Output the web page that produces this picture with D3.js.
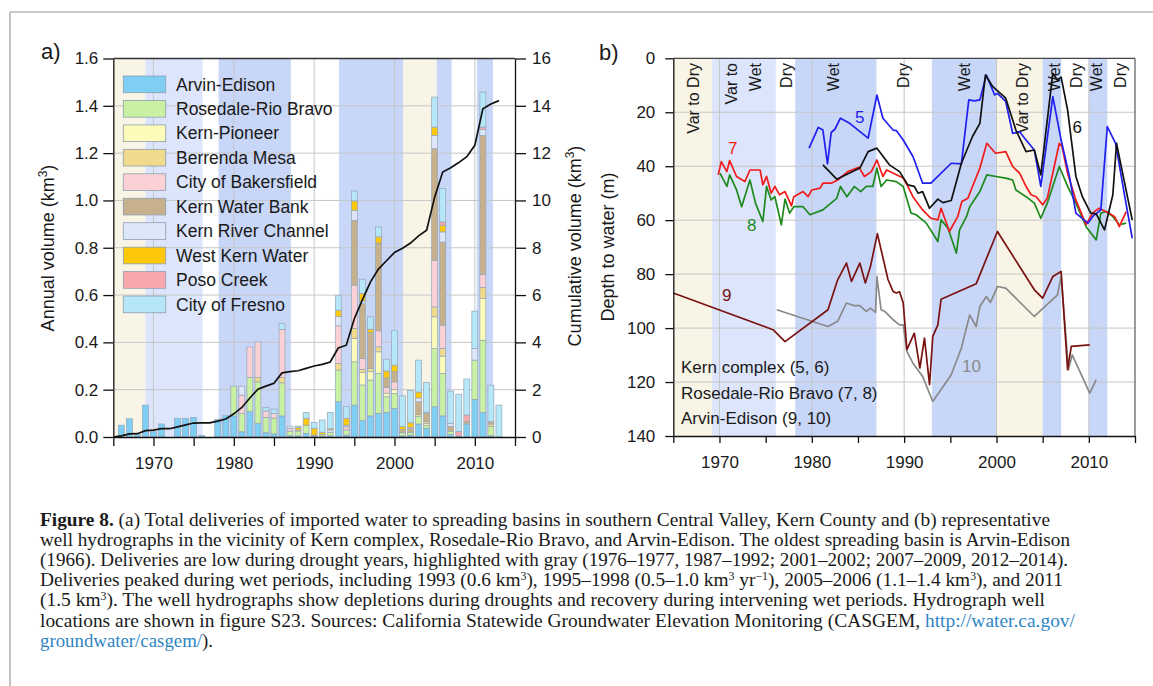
<!DOCTYPE html>
<html><head><meta charset="utf-8">
<script src="https://cdn.jsdelivr.net/npm/d3@7"></script>
<style>
body{margin:0;background:#fff}
svg{display:block}
text{font-family:"Liberation Sans",Arial,sans-serif;fill:#1a1a1a}
</style>
</head><body>
<svg id="c" width="1153" height="686"></svg>
<script>
// ---------- DATA: panel a ----------
const years = [1966,1967,1968,1969,1970,1971,1972,1973,1974,1975,1976,1977,1978,1979,1980,1981,1982,1983,1984,1985,1986,1987,1988,1989,1990,1991,1992,1993,1994,1995,1996,1997,1998,1999,2000,2001,2002,2003,2004,2005,2006,2007,2008,2009,2010,2011,2012,2013];
const seriesNames = ["Arvin-Edison","Rosedale-Rio Bravo","Kern-Pioneer","Berrenda Mesa","City of Bakersfield","Kern Water Bank","Kern River Channel","West Kern Water","Poso Creek","City of Fresno"];
const seriesColors = ["#7ecff3","#c9f0a3","#fdfbb9","#f2da8c","#fcd1d5","#c7b18d","#dee6fa","#fdc70a","#f8a8ac","#b6e7f8"];
const arvinEdison = [.05,.077,.01,.135,.022,.055,0,.079,.079,.083, .006,0,.075,.09,.089,.022,.107,.058,.018,.013, .089,.005,.005,.015,.004,.004,.005,.149,.008,.135, .069,.089,.1,.104,.121,.005,.008,.055,.037,.128, .089,.01,.004,.055,.159,.104,.005,0];
const rosedale = [0,0,0,0,0,0,0,0,0,0, 0,0,0,0,.126,.078,.145,.175,.065,.067, .14,.02,.02,.035,.004,.006,.015,.134,.022,.183, .151,.152,.169,.066,.063,.013,.012,.031,.013,.246, .18,.015,0,0,.166,.305,.04,0];
const kernPioneer = [0,0,0,0,0,0,0,0,0,0, 0,0,0,0,0,0,0,0,0,0, 0,0,0,0,0,0,0,0,0,.099, .052,.035,.091,.015,.016,0,0,0,.008,.134, .073,0,0,0,0,.176,0,0];
const berrenda = [0,0,0,0,0,0,0,0,0,0, 0,0,0,0,0,0,0,.019,0,0, .023,0,.005,0,0,0,0,.028,0,.042, .014,.014,.021,0,0,0,0,.009,.007,.042, .032,0,0,0,0,.047,.01,0];
const bakersfield = [0,0,0,0,0,0,0,0,0,0, 0,0,0,0,0,.077,.129,.15,.027,.02, .203,.011,0,0,0,0,0,.159,.013,.183, .046,0,.068,.025,.033,0,0,0,0,.197, .099,0,0,0,0,.056,0,0];
const waterBank = [0,0,0,0,0,0,0,0,0,0, 0,0,0,0,0,0,0,0,0,0, 0,0,0,0,0,0,0,0,0,.274, .232,.152,.371,.04,.043,.014,.015,.054,.035,.472, .351,.02,0,.01,0,.587,.01,0];
const riverChannel = [0,0,0,0,0,0,0,0,0,0, 0,0,0,0,0,.038,0,0,0,0, 0,.01,0,0,0,0,.01,.039,.007,.042, .011,0,0,0,0,0,.006,.016,.005,.056, .043,.013,0,0,.049,.025,0,0];
const westKern = [0,0,0,0,0,0,0,0,0,0, 0,0,0,0,0,0,0,0,0,0, 0,0,.01,.029,.029,.01,.005,.027,.029,.04, .032,.014,.026,.029,.028,.012,.019,.025,0,.035, .028,0,0,0,0,0,0,0];
const posoCreek = [0,0,0,0,0,0,0,0,0,0, 0,0,0,0,0,0,0,0,0,0, 0,0,0,0,0,0,0,0,0,0, 0,0,0,0,0,0,0,0,0,0, .014,0,.019,.028,0,.01,0,0];
const fresno = [0,0,0,0,0,0,0,0,0,0, 0,0,0,0,0,0,0,0,.015,.018, .025,0,.006,.025,.025,.052,.069,.061,.049,.042, .06,.052,.042,.05,.145,.13,.136,.135,.126,.127, .141,.136,.158,.152,.158,.148,.154,.135];
const cumYears = [1965,1966,1967,1968,1969,1970,1971,1972,1973,1974,1975,1976,1977,1978,1979,1980,1981,1982,1983,1984,1985,1986,1987,1988,1989,1990,1991,1992,1993,1994,1995,1996,1997,1998,1999,2000,2001,2002,2003,2004,2005,2006,2007,2008,2009,2010,2011,2012,2013];
const cumVolume = [0,.05,.13,.14,.27,.29,.35,.35,.43,.51,.59,.6,.6,.67,.76,.98,1.25,1.65,2.02,2.15,2.27,2.71,2.76,2.8,2.9,3.0,3.07,3.17,3.76,3.88,5.0,5.8,6.55,7.1,7.45,7.8,7.98,8.2,8.5,8.74,10.14,11.2,11.38,11.6,11.85,12.33,13.87,14.08,14.22];
const annualTicks = [0,0.2,0.4,0.6,0.8,1.0,1.2,1.4,1.6];
const cumTicks = [0,2,4,6,8,10,12,14,16];
const yearTicks = [1965,1970,1975,1980,1985,1990,1995,2000,2005,2010,2015];
const yearLabels = [1970,1980,1990,2000,2010];
const bandsA = [[1965,1969,"varDry"],[1969,1976.1,"varWet"],[1978.1,1987.1,"wet"],[1993.1,2001.1,"wet"],[2001.1,2005.25,"varDry"],[2005.25,2007.1,"wet"],[2010.25,2012.25,"wet"]];

// ---------- DATA: panel b ----------
const bandsB = [[1965,1969.2,"varDry"],[1969.2,1976.1,"varWet"],[1978.2,1987,"wet"],[1993,2000,"wet"],[2000,2005,"varDry"],[2005,2007,"wet"],[2010,2012,"wet"]];
const periodLabels = [["Var to Dry",1967.16],["Var to",1971.3],["Wet",1973.83],["Dry",1977.26],["Wet",1982.3],["Dry",1989.86],["Wet",1996.5],["Var to Dry",2002.8],["Wet",2006.26],["Dry",2008.6],["Wet",2010.77],["Dry",2013.4]];
const depthTicks = [0,20,40,60,80,100,120,140];
const well5 = [[1979.7,33.3],[1980.7,25.6],[1981.2,26.6],[1981.7,39.1],[1982.1,27.5],[1982.5,26.3],[1983.1,22.2],[1984.1,24.1],[1986.1,29.6],[1987.05,13.6],[1987.7,22.2],[1988.8,26.6],[1989.15,26.8],[1989.9,30.3],[1990.95,36.4],[1991.1,37.7],[1992.0,46.3],[1992.9,46.3],[1995.1,38.9],[1996.2,39.1],[1997.0,15.4],[1997.6,15.8],[1998.2,15.4],[1998.9,6.2],[1999.8,13.6],[2000.1,13],[2001.0,16],[2001.75,27.8],[2002.5,27.2],[2003.2,30.3],[2004.1,34],[2004.8,47.5],[2006.1,14.2],[2007.0,30.3],[2007.9,43.8],[2008.6,57.4],[2009.9,61.1],[2010.4,58.7],[2011.3,56.2],[2012.0,25.3],[2012.9,31.5],[2013.8,49.4],[2014.7,66.7]];
const well6 = [[1981.2,39.5],[1982.7,44.8],[1985.2,40.7],[1986.1,34.6],[1987.05,33.3],[1988.4,39.5],[1989.5,42],[1990.4,46.9],[1991.1,47.5],[1991.5,50],[1992.0,49.4],[1992.75,55.6],[1993.65,52.2],[1994.2,53.5],[1995.1,52.7],[1996.2,38.9],[1997.4,29],[1998.2,24.1],[1998.8,6.2],[1999.6,10.5],[2000.0,11.7],[2001.0,14.8],[2002.1,26.6],[2003.2,34.6],[2004.1,34],[2004.8,43.2],[2006.1,5.6],[2006.6,8],[2007.0,7],[2007.7,19.1],[2008.6,43.8],[2009.3,51.3],[2010.2,57.4],[2010.8,57.7],[2011.7,63.6],[2012.6,50.6],[2013.0,31.5],[2013.8,45],[2014.7,59.9]];
const well7 = [[1969.86,43.2],[1970.2,38.3],[1970.8,42],[1971.1,37.9],[1971.85,43.8],[1972.75,45.7],[1973.3,41.4],[1974.4,41.4],[1974.7,46.9],[1975.1,43.8],[1975.6,50],[1976.0,47.5],[1976.5,50.6],[1977.1,49.4],[1977.8,54.7],[1978.05,51.3],[1979.05,49.4],[1979.6,51.3],[1980.0,48.8],[1980.9,48.1],[1981.2,46.3],[1982.1,46.3],[1982.8,45.1],[1983.9,42],[1985.1,40.4],[1985.7,43.8],[1986.45,42],[1987.05,37.7],[1987.7,43.8],[1988.1,41.4],[1989.9,44.4],[1990.4,47.5],[1990.95,51.3],[1992.0,56.2],[1992.9,59.3],[1993.65,59.9],[1994.0,55.6],[1994.9,64.2],[1995.8,58.7],[1996.25,53.1],[1996.9,51.9],[1997.4,47.5],[1998.2,40.7],[1998.95,31.5],[1999.9,35.2],[2001.0,34.6],[2001.75,40.1],[2002.5,42.6],[2003.2,47.5],[2003.75,50.6],[2004.3,51.3],[2005.0,54.3],[2005.5,51.9],[2006.8,31.5],[2007.1,32.7],[2007.7,42.6],[2008.6,52.5],[2009.7,61.7],[2010.4,57.4],[2011.1,55.6],[2012.2,57.4],[2012.8,58.7],[2013.3,62.4],[2014.05,56.8]];
const well8 = [[1970.05,42.6],[1970.8,47.5],[1971.1,43.2],[1971.85,48.8],[1972.4,55],[1973.3,45.1],[1973.9,53.7],[1974.7,60.5],[1975.1,47.5],[1975.6,52.5],[1976.0,51.3],[1976.7,61.7],[1977.1,52.2],[1977.6,57.4],[1978.05,55],[1979.05,55],[1979.8,58],[1981.2,56.2],[1982.7,51.9],[1983.1,47.5],[1983.8,51.3],[1984.6,47.5],[1985.3,49.4],[1985.9,47.5],[1986.6,47.5],[1987.05,40.7],[1987.5,47.5],[1988.1,45.1],[1989.15,45.7],[1989.9,47.5],[1990.75,57.4],[1991.3,58],[1992.4,61.1],[1993.65,67.9],[1994.0,59.9],[1994.75,63],[1995.65,72.2],[1996.0,63.6],[1996.75,58.7],[1997.1,55],[1998.2,49.4],[1998.95,43.2],[1999.96,43.8],[2001.0,44.4],[2001.75,45.1],[2002.1,48.8],[2003.2,51.3],[2004.1,53.7],[2004.8,59.3],[2005.5,53.7],[2006.8,40.1],[2007.7,47.5],[2008.6,53.7],[2009.7,62.4],[2010.8,67.3],[2011.3,57.4],[2011.9,56.8],[2012.6,58.7],[2013.3,61.7],[2014.05,61.1]];
const well9 = [[1965,87],[1975.8,100.6],[1977.1,105],[1981.75,93.2],[1982.8,82.1],[1983.75,75.9],[1984.3,82.7],[1985.2,75.9],[1985.8,83.3],[1986.35,77.2],[1987.1,65],[1988.25,82],[1988.8,86.4],[1989.15,87],[1989.5,86.5],[1989.9,90.7],[1990.3,108],[1991.1,101.9],[1991.7,114.8],[1992.2,103.7],[1992.75,121],[1993.1,103.1],[1993.65,98.8],[1994.0,89.3],[1997.8,83.6],[2000.1,64.2],[2004.1,85.8],[2005.0,88.9],[2006.1,80.9],[2007.0,79],[2007.7,115.4],[2008.1,106.8],[2010.1,106.2]];
const well10 = [[1976.2,93.2],[1981.75,99.4],[1982.8,97.5],[1983.75,90.7],[1984.6,91.7],[1985.2,91.7],[1985.9,93.8],[1986.35,92.6],[1986.9,94.2],[1987.05,80.9],[1987.5,93.2],[1987.9,93.8],[1988.8,96.9],[1989.5,98.8],[1989.9,98.8],[1990.3,108.7],[1990.95,113],[1992.0,117.9],[1993.1,127.2],[1995.1,117.3],[1996.2,107.4],[1997.1,95.1],[1997.8,99.4],[1998.2,92],[1998.9,88.3],[1999.35,90.5],[2000.1,84.6],[2001.0,85.2],[2004.1,95.7],[2006.6,87.7],[2007.0,80.9],[2007.8,115.4],[2008.2,109.9],[2010.1,124.1],[2010.8,119.1]];
const wellNames = ["10","9","8","7","5","6"];
const wellColors = ["#8a8a8a","#7a1212","#1e8a1e","#f21b1b","#1f1ff0","#111111"];
const wellLabelPos = [["5",1985.2,21.8],["6",2008.75,25.4],["7",1971.45,33.2],["8",1973.5,61.7],["9",1970.8,87.7],["10",1997.3,114]];
const siteLegend = ["Kern complex (5, 6)","Rosedale-Rio Bravo (7, 8)","Arvin-Edison (9, 10)"];

// ---------- DRAW ----------
const svg = d3.select("#c");
svg.append("rect").attr("width",1153).attr("height",686).attr("fill","#fff");
const bandColor = {varDry:"#f8f4e6", varWet:"#dce5fb", wet:"#c8d6f8"};
const gridColor = "#c6c6c6";

// frame of page
svg.append("line").attr("x1",10).attr("x2",1153).attr("y1",12).attr("y2",12).attr("stroke","#9a9a9a").attr("stroke-width",1.2);
svg.append("line").attr("x1",10).attr("x2",10).attr("y1",12).attr("y2",686).attr("stroke","#9a9a9a").attr("stroke-width",1.2);

// ===== Panel a =====
const xa = d3.scaleLinear().domain([1965,2015]).range([113.3,515]);
const ya = d3.scaleLinear().domain([0,1.6]).range([437,58.5]);
const ya2 = d3.scaleLinear().domain([0,16]).range([437,58.5]);
const ga = svg.append("g");

ga.selectAll("rect.band").data(bandsA).join("rect")
  .attr("x",d=>xa(d[0])).attr("width",d=>xa(d[1])-xa(d[0]))
  .attr("y",ya(1.6)).attr("height",ya(0)-ya(1.6)).attr("fill",d=>bandColor[d[2]]);
ga.selectAll("line.hg").data(annualTicks.slice(1,-1)).join("line")
  .attr("x1",xa(1965)).attr("x2",xa(2015)).attr("y1",d=>ya(d)).attr("y2",d=>ya(d))
  .attr("stroke",gridColor).attr("stroke-width",1);
ga.selectAll("line.vg").data(yearLabels).join("line")
  .attr("x1",d=>xa(d)).attr("x2",d=>xa(d)).attr("y1",ya(0)).attr("y2",ya(1.6))
  .attr("stroke",gridColor).attr("stroke-width",1);

const table = years.map((y,i)=>{
  const o={year:y};
  const vals=[arvinEdison,rosedale,kernPioneer,berrenda,bakersfield,waterBank,riverChannel,westKern,posoCreek,fresno];
  seriesNames.forEach((k,j)=>o[k]=vals[j][i]);
  return o;
});
const stacked = d3.stack().keys(seriesNames)(table);
stacked.forEach((layer,j)=>{
  ga.append("g").selectAll("rect").data(layer.filter(d=>d[1]-d[0]>0)).join("rect")
    .attr("x",d=>xa(d.data.year-0.37)).attr("width",d=>xa(d.data.year+0.37)-xa(d.data.year-0.37))
    .attr("y",d=>ya(d[1])).attr("height",d=>ya(d[0])-ya(d[1]))
    .attr("fill",seriesColors[j]).attr("stroke","#93a6b8").attr("stroke-width",0.7);
});
ga.append("path").datum(cumYears.map((y,i)=>[y,cumVolume[i]]))
  .attr("d",d3.line().x(d=>xa(d[0])).y(d=>ya2(d[1])))
  .attr("fill","none").attr("stroke","#111").attr("stroke-width",1.7);

// legend a
const lg = ga.append("g");
seriesNames.forEach((n,i)=>{
  const top = 76 + i*24.45;
  lg.append("rect").attr("x",123.3).attr("y",top).attr("width",42.4).attr("height",16.7)
    .attr("fill",seriesColors[i]).attr("stroke","#8e9fb0").attr("stroke-width",0.8);
  lg.append("text").attr("x",176).attr("y",top+14.5).attr("font-size",17.5).text(n);
});

// axes a
function styleAxis(g){
  g.selectAll("path.domain").attr("stroke","#111").attr("stroke-width",1.3);
  g.selectAll(".tick line").attr("stroke","#111").attr("stroke-width",1.3);
  g.selectAll(".tick text").attr("font-size",17).attr("fill","#1a1a1a").attr("font-family","Liberation Sans, Arial, sans-serif");
}
ga.append("line").attr("x1",xa(1965)).attr("x2",xa(2015)).attr("y1",ya(1.6)).attr("y2",ya(1.6)).attr("stroke","#333").attr("stroke-width",1.3);
ga.append("g").attr("transform",`translate(${xa(1965)},0)`)
  .call(d3.axisLeft(ya).tickValues(annualTicks).tickFormat(d3.format(".1f")).tickSize(10).tickPadding(5).tickSizeOuter(0)).call(styleAxis);
ga.append("g").attr("transform",`translate(${xa(2015)},0)`)
  .call(d3.axisRight(ya2).tickValues(cumTicks).tickSize(11).tickPadding(6).tickSizeOuter(0)).call(styleAxis);
ga.append("g").attr("transform",`translate(0,${ya(0)})`)
  .call(d3.axisBottom(xa).tickValues(yearTicks).tickFormat(d=>yearLabels.includes(d)?d:"").tickSize(9).tickPadding(11).tickSizeOuter(0)).call(styleAxis);

const supLabel = (g,x,y,parts)=>{
  const t = g.append("text").attr("transform",`translate(${x},${y}) rotate(-90)`).attr("text-anchor","middle").attr("font-size",18);
  parts.forEach(p=>{ const s=t.append("tspan").text(p[0]); if(p[1]) s.attr("baseline-shift","super").attr("font-size",12); });
  return t;
};
supLabel(svg,54,248,[["Annual volume (km"],["3",1],[")"]]);
supLabel(svg,581,246,[["Cumulative volume (km"],["3",1],[")"]]);
svg.append("text").attr("x",41).attr("y",59).attr("font-size",22).text("a)");

// ===== Panel b =====
const xb = d3.scaleLinear().domain([1965,2015]).range([673.3,1135]);
const yb = d3.scaleLinear().domain([0,140]).range([58.3,436]);
const gb = svg.append("g");
gb.selectAll("rect.band").data(bandsB).join("rect")
  .attr("x",d=>xb(d[0])).attr("width",d=>xb(d[1])-xb(d[0]))
  .attr("y",yb(0)).attr("height",yb(140)-yb(0)).attr("fill",d=>bandColor[d[2]]);
gb.selectAll("line.hg").data(depthTicks.slice(1,-1)).join("line")
  .attr("x1",xb(1965)).attr("x2",xb(2015)).attr("y1",d=>yb(d)).attr("y2",d=>yb(d))
  .attr("stroke",gridColor).attr("stroke-width",1);
gb.selectAll("line.vg").data(yearLabels).join("line")
  .attr("x1",d=>xb(d)).attr("x2",d=>xb(d)).attr("y1",yb(0)).attr("y2",yb(140))
  .attr("stroke",gridColor).attr("stroke-width",1);
gb.selectAll("text.per").data(periodLabels).join("text")
  .attr("transform",d=>`translate(${xb(d[1])},63) rotate(-90)`)
  .attr("dy","0.36em").attr("text-anchor","end").attr("font-size",16).text(d=>d[0]);

const wells = [well10,well9,well8,well7,well5,well6];
const lineB = d3.line().x(d=>xb(d[0])).y(d=>yb(d[1]));
wells.forEach((w,i)=>{
  gb.append("path").datum(w).attr("d",lineB).attr("fill","none")
    .attr("stroke",wellColors[i]).attr("stroke-width",1.7).attr("stroke-linejoin","round");
});
gb.selectAll("text.wl").data(wellLabelPos).join("text")
  .attr("x",d=>xb(d[1])).attr("y",d=>yb(d[2])).attr("dy","0.36em").attr("text-anchor","middle")
  .attr("font-size",17).style("fill",d=>wellColors[wellNames.indexOf(d[0])]).text(d=>d[0]);
gb.selectAll("text.sl").data(siteLegend).join("text")
  .attr("x",681).attr("y",(d,i)=>373+i*25.5).attr("font-size",17).text(d=>d);

gb.append("line").attr("x1",xb(1965)).attr("x2",xb(2015)).attr("y1",yb(0)).attr("y2",yb(0)).attr("stroke","#444").attr("stroke-width",1.3);
gb.append("line").attr("x1",xb(2015)).attr("x2",xb(2015)).attr("y1",yb(0)).attr("y2",yb(140)).attr("stroke","#666").attr("stroke-width",1.3);
gb.append("g").attr("transform",`translate(${xb(1965)},0)`)
  .call(d3.axisLeft(yb).tickValues(depthTicks).tickSize(8).tickPadding(10).tickSizeOuter(0)).call(styleAxis);
gb.append("g").attr("transform",`translate(0,${yb(140)})`)
  .call(d3.axisBottom(xb).tickValues(yearTicks).tickFormat(d=>yearLabels.includes(d)?d:"").tickSize(7).tickPadding(13).tickSizeOuter(0)).call(styleAxis);
svg.append("text").attr("transform","translate(614,247) rotate(-90)").attr("text-anchor","middle").attr("font-size",18).text("Depth to water (m)");
svg.append("text").attr("x",599).attr("y",60).attr("font-size",22).text("b)");

// ===== Caption =====
const capLines = [
  [["Figure 8.","b"],[" (a) Total deliveries of imported water to spreading basins in southern Central Valley, Kern County and (b) representative"]],
  [["well hydrographs in the vicinity of Kern complex, Rosedale-Rio Bravo, and Arvin-Edison. The oldest spreading basin is Arvin-Edison"]],
  [["(1966). Deliveries are low during drought years, highlighted with gray (1976–1977, 1987–1992; 2001–2002; 2007–2009, 2012–2014)."]],
  [["Deliveries peaked during wet periods, including 1993 (0.6 km"],["3","s"],["), 1995–1998 (0.5–1.0 km"],["3","s"],[" yr"],["−1","s"],["), 2005–2006 (1.1–1.4 km"],["3","s"],["), and 2011"]],
  [["(1.5 km"],["3","s"],["). The well hydrographs show depletions during droughts and recovery during intervening wet periods. Hydrograph well"]],
  [["locations are shown in figure S23. Sources: California Statewide Groundwater Elevation Monitoring (CASGEM, "],["http://water.ca.gov/","l"]],
  [["groundwater/casgem/","l"],[")."]]
];
const capEnds = [1050,1070,1068,1063,1045,1075,213];
capLines.forEach((ln,i)=>{
  const t = svg.append("text").attr("x",40).attr("y",526+i*20.1)
    .style("font-family","'Liberation Serif','Times New Roman',serif").attr("font-size",18.8)
    .attr("textLength",capEnds[i]-40).attr("lengthAdjust","spacingAndGlyphs");
  ln.forEach(p=>{
    const s = t.append("tspan").text(p[0]);
    if(p[1]==="b") s.attr("font-weight","bold");
    if(p[1]==="s") s.attr("baseline-shift","super").attr("font-size",11.5);
    if(p[1]==="l") s.style("fill","#2f86c4");
  });
});
</script>
</body></html>
